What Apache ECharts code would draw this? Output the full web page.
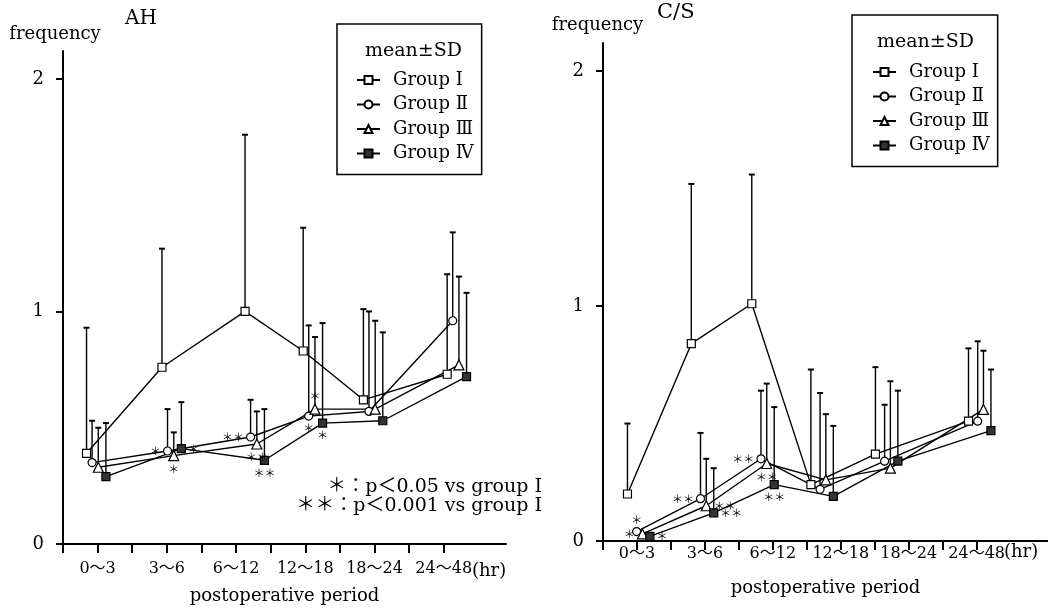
<!DOCTYPE html>
<html>
<head>
<meta charset="utf-8">
<script src="https://cdn.jsdelivr.net/npm/echarts@6/dist/echarts.min.js"></script>
<style>
html, body { margin: 0; background: #fff; }
#main { width: 1048px; height: 610px; }
</style>
</head>
<body>
<div id="main"></div>
<script>
// categories and groups
var periods = ['0～3', '3～6', '6～12', '12～18', '18～24', '24～48'];
var groups = ['Group Ⅰ', 'Group Ⅱ', 'Group Ⅲ', 'Group Ⅳ'];
var yTicks = [0, 1, 2];

// AH : mean and SD, one row per group
var ahMean = [
    [0.39, 0.76, 1.00, 0.83, 0.62, 0.73],
    [0.35, 0.40, 0.46, 0.55, 0.57, 0.96],
    [0.33, 0.38, 0.43, 0.58, 0.58, 0.77],
    [0.29, 0.41, 0.36, 0.52, 0.53, 0.72]
];
var ahSD = [
    [0.54, 0.51, 0.76, 0.53, 0.39, 0.43],
    [0.18, 0.18, 0.16, 0.39, 0.43, 0.38],
    [0.17, 0.10, 0.14, 0.31, 0.38, 0.38],
    [0.23, 0.20, 0.22, 0.43, 0.38, 0.36]
];
var ahSig = [
    ['', '', '', '', '', ''],
    ['', '*', '**', '*', '', ''],
    ['', '*', '**', '*', '', ''],
    ['', '*', '**', '*', '', '']
];

// C/S
var csMean = [
    [0.20, 0.84, 1.01, 0.24, 0.37, 0.51],
    [0.04, 0.18, 0.35, 0.22, 0.34, 0.51],
    [0.03, 0.15, 0.33, 0.26, 0.31, 0.56],
    [0.02, 0.12, 0.24, 0.19, 0.34, 0.47]
];
var csSD = [
    [0.30, 0.68, 0.55, 0.49, 0.37, 0.31],
    [0, 0.28, 0.29, 0.41, 0.24, 0.34],
    [0, 0.20, 0.34, 0.28, 0.37, 0.25],
    [0, 0.19, 0.33, 0.30, 0.30, 0.26]
];
var csSig = [
    ['', '', '', '', '', ''],
    ['*', '**', '**', '', '', ''],
    ['*', '**', '**', '', '', ''],
    ['*', '**', '**', '', '', '']
];

// layout: where each group sits inside a period, and label sides for the asterisks
var ahShift = [-0.03, 0.06, 0.26, 0.1, -0.03, 0.18];
var ahOffs = [-0.13, -0.05, 0.04, 0.15];
var csShift = [0.03, -0.03, -0.14, -0.27, -0.32, 0.05];
var csOffs = [-0.17, -0.035, 0.05, 0.16];
var ahSigPos = [
    [],
    ['', 'left', 'left', 'bottom'],
    ['', 'bottom', 'bottom', 'top'],
    ['', 'right', 'bottom', 'bottom']
];
var csSigPos = [
    [],
    ['top', 'left', 'left'],
    ['left', 'right', 'bottom'],
    ['right', 'right', 'bottom']
];

var serif = '"DejaVu Serif", "Noto Sans CJK JP", serif';
var symbols = ['rect', 'circle', 'triangle', 'rect'];
var fills = ['#fff', '#fff', '#fff', '#333'];

var tickVals = [], labelVals = [];
periods.forEach(function (p, i) {
    tickVals.push(i, i + 0.5);
    labelVals.push(i + 0.5);
});

function errorBar(params, api) {
    var x = api.value(0);
    var p0 = api.coord([x, api.value(1)]);
    var p1 = api.coord([x, api.value(2)]);
    return {
        type: 'group',
        children: [
            { type: 'line', shape: { x1: p0[0], y1: p0[1], x2: p1[0], y2: p1[1] },
              style: { stroke: '#000', lineWidth: 1.4 } },
            { type: 'line', shape: { x1: p1[0] - 3, y1: p1[1], x2: p1[0] + 3, y2: p1[1] },
              style: { stroke: '#000', lineWidth: 2 } }
        ]
    };
}

function panelSeries(p, mean, sd, sig, sigPos, shift, offs) {
    var list = [];
    var bars = [];
    groups.forEach(function (g, gi) {
        var pts = mean[gi].map(function (m, i) {
            var x = i + 0.5 + shift[i] + offs[gi];
            if (sd[gi][i] > 0) bars.push([x, m, m + sd[gi][i]]);
            var s = sig[gi][i];
            return {
                value: [x, m],
                label: s ? { show: true, formatter: s.replace(/\*/g, '＊'),
                             position: sigPos[gi][i] || 'bottom' } : { show: false }
            };
        });
        list.push({
            name: g,
            type: 'line',
            xAxisIndex: p,
            yAxisIndex: p,
            data: pts,
            symbol: symbols[gi],
            symbolSize: gi === 2 ? 10 : 8,
            z: 3,
            lineStyle: { color: '#000', width: 1.4 },
            itemStyle: { color: fills[gi], borderColor: '#000', borderWidth: 1.2 },
            label: { fontSize: 11, color: '#000', distance: 2, fontFamily: '"Noto Sans CJK JP"' }
        });
    });
    list.push({
        type: 'custom',
        xAxisIndex: p,
        yAxisIndex: p,
        renderItem: errorBar,
        encode: { x: 0, y: [1, 2] },
        data: bars,
        z: 1,
        silent: true
    });
    return list;
}

function xAxisFor(gi, max, margin, nameGap) {
    return {
        type: 'value', gridIndex: gi, min: 0, max: max,
        axisLine: { lineStyle: { color: '#000', width: 2 } },
        axisTick: { customValues: tickVals, length: 9, lineStyle: { width: 2 } },
        axisLabel: {
            customValues: labelVals,
            formatter: function (v) { return periods[Math.round(v - 0.5)]; },
            margin: margin, fontFamily: serif, fontSize: 16, color: '#000'
        },
        splitLine: { show: false },
        name: 'postoperative period', nameLocation: 'middle', nameGap: nameGap,
        nameTextStyle: { fontFamily: serif, fontSize: 18, color: '#000' }
    };
}

function yAxisFor(gi, padRight, nameGap) {
    return {
        type: 'value', gridIndex: gi, min: 0, max: 2.12,
        axisLine: { show: true, lineStyle: { color: '#000', width: 2 } },
        axisTick: { show: true, customValues: yTicks, length: 7, lineStyle: { width: 2 } },
        axisLabel: { customValues: yTicks, margin: 19, fontFamily: serif, fontSize: 18, color: '#000' },
        splitLine: { show: false },
        name: 'frequency', nameLocation: 'end', nameGap: nameGap,
        nameTextStyle: { fontFamily: serif, fontSize: 18, color: '#000', padding: [0, padRight, 0, 0] }
    };
}

function legendFor(left, top, pad) {
    return {
        data: groups, orient: 'vertical', left: left, top: top, padding: pad,
        itemWidth: 23, itemHeight: 10, itemGap: 6.5,
        borderColor: '#000', borderWidth: 1.5, selectedMode: false,
        textStyle: { fontFamily: serif, fontSize: 18, color: '#000', padding: [0, 0, 0, 8] }
    };
}

function titleStyle(size) {
    return { fontFamily: serif, fontSize: size, fontWeight: 'normal', color: '#000' };
}

var chart = echarts.init(document.getElementById('main'));
var option = {
    backgroundColor: '#fff',
    animation: false,
    title: [
        { text: 'AH', left: 125, top: 9, padding: 0, textStyle: titleStyle(20) },
        { text: 'C/S', left: 657, top: 2, padding: 0, textStyle: titleStyle(21) },
        { text: 'mean±SD', left: 365, top: 42, padding: 0, textStyle: titleStyle(19) },
        { text: 'mean±SD', left: 877, top: 33, padding: 0, textStyle: titleStyle(19) }
    ],
    legend: [
        legendFor(337, 24, [47, 8, 12, 19]),
        legendFor(852, 15, [48, 8, 12, 20])
    ],
    grid: [
        { left: 63, top: 51, width: 443, height: 497 },
        { left: 603, top: 43, width: 445, height: 498 }
    ],
    xAxis: [xAxisFor(0, 6.4, 17, 43), xAxisFor(1, 6.55, 5, 38)],
    yAxis: [yAxisFor(0, 16, 8), yAxisFor(1, 11, 9)],
    graphic: [
        { type: 'text', x: 542, y: 487, style: { text: '＊：p＜0.05 vs group Ⅰ', textAlign: 'right',
          textVerticalAlign: 'middle', font: '19px ' + serif, fill: '#000' } },
        { type: 'text', x: 542, y: 506, style: { text: '＊＊：p＜0.001 vs group Ⅰ', textAlign: 'right',
          textVerticalAlign: 'middle', font: '19px ' + serif, fill: '#000' } },
        { type: 'text', x: 472, y: 571, style: { text: '(hr)', textVerticalAlign: 'middle',
          font: '18px ' + serif, fill: '#000' } },
        { type: 'text', x: 1004, y: 552, style: { text: '(hr)', textVerticalAlign: 'middle',
          font: '18px ' + serif, fill: '#000' } }
    ],
    series: panelSeries(0, ahMean, ahSD, ahSig, ahSigPos, ahShift, ahOffs)
        .concat(panelSeries(1, csMean, csSD, csSig, csSigPos, csShift, csOffs))
};
chart.setOption(option);
window.addEventListener('resize', function () { chart.resize(); });
</script>
</body>
</html>
